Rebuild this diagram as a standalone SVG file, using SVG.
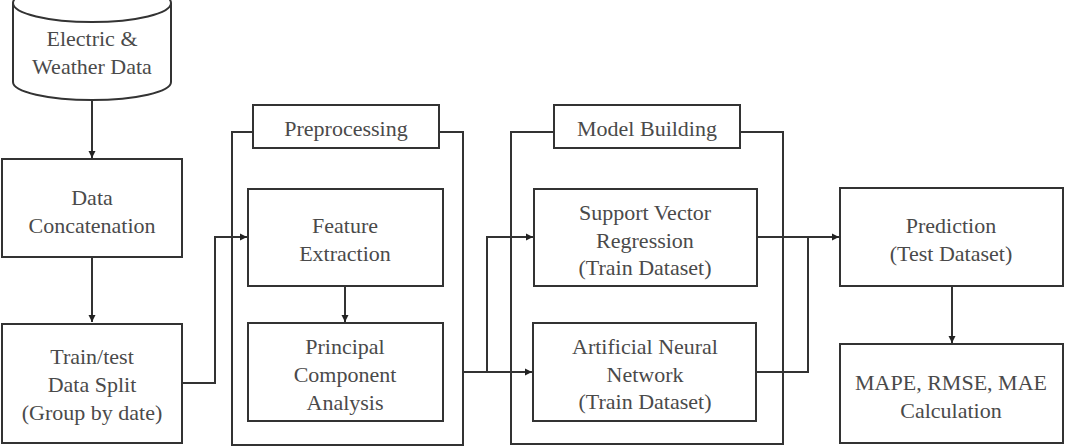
<svg xmlns="http://www.w3.org/2000/svg" width="1069" height="447" viewBox="0 0 1069 447">
<defs>
<marker id="ah" markerWidth="8" markerHeight="8" refX="7" refY="4" orient="auto" markerUnits="userSpaceOnUse">
<path d="M0,0.5 L7,4 L0,7.5 Z" fill="#222"/>
</marker>
</defs>
<rect width="1069" height="447" fill="#fff"/>

<g id="connectors" fill="none" stroke="#333" stroke-width="2">
<path d="M92,100 V158" marker-end="url(#ah)"/>
<path d="M92,257 V322" marker-end="url(#ah)"/>
<path d="M182,383 H215 V237 H247" marker-end="url(#ah)"/>
<path d="M345,286 V322" marker-end="url(#ah)"/>
<path d="M463,372 H487 V237 H533" marker-end="url(#ah)"/>
<path d="M487,372 H532" marker-end="url(#ah)"/>
<path d="M757,237 H839" marker-end="url(#ah)"/>
<path d="M756,372 H808 V237"/>
<path d="M952,286 V343" marker-end="url(#ah)"/>
</g>

<g id="nodes" font-size="22" text-anchor="middle">

<g id="preprocessing">
<path d="M253,132 H232 V445 H463 V132 H439" fill="none" stroke="#333" stroke-width="2"/>
<rect x="253" y="105" width="186" height="43" fill="#fff" stroke="#333" stroke-width="2"/>
<text x="346" y="136" font-family="Liberation Serif" fill="#4a4a4a">Preprocessing</text>
</g>

<g id="model-building">
<path d="M554,132 H511 V444 H783 V132 H740" fill="none" stroke="#333" stroke-width="2"/>
<rect x="554" y="105" width="186" height="43" fill="#fff" stroke="#333" stroke-width="2"/>
<text x="647" y="136" font-family="Liberation Serif" fill="#4a4a4a">Model Building</text>
</g>

<g id="data-source">
<path d="M13,3 V82 A79,18 0 0 0 171,82 V3" fill="#fff" stroke="#333" stroke-width="2"/>
<ellipse cx="92" cy="3" rx="79" ry="19" fill="#fff" stroke="#333" stroke-width="2"/>
<text x="92" y="46" font-family="Liberation Serif" fill="#4a4a4a">Electric &amp;</text>
<text x="92" y="74" font-family="Liberation Serif" fill="#4a4a4a">Weather Data</text>
</g>

<g id="data-concatenation">
<rect x="2" y="159" width="180" height="98" fill="#fff" stroke="#333" stroke-width="2"/>
<text x="92" y="205" font-family="Liberation Serif" fill="#4a4a4a">Data</text>
<text x="92" y="233" font-family="Liberation Serif" fill="#4a4a4a">Concatenation</text>
</g>

<g id="train-test-split">
<rect x="2" y="324" width="180" height="119" fill="#fff" stroke="#333" stroke-width="2"/>
<text x="92" y="364" font-family="Liberation Serif" fill="#4a4a4a">Train/test</text>
<text x="92" y="392" font-family="Liberation Serif" fill="#4a4a4a">Data Split</text>
<text x="92" y="420" font-family="Liberation Serif" fill="#4a4a4a">(Group by date)</text>
</g>

<g id="feature-extraction">
<rect x="248" y="189" width="195" height="97" fill="#fff" stroke="#333" stroke-width="2"/>
<text x="345" y="233" font-family="Liberation Serif" fill="#4a4a4a">Feature</text>
<text x="345" y="261" font-family="Liberation Serif" fill="#4a4a4a">Extraction</text>
</g>

<g id="pca">
<rect x="248" y="323" width="195" height="98" fill="#fff" stroke="#333" stroke-width="2"/>
<text x="345" y="354" font-family="Liberation Serif" fill="#4a4a4a">Principal</text>
<text x="345" y="382" font-family="Liberation Serif" fill="#4a4a4a">Component</text>
<text x="345" y="410" font-family="Liberation Serif" fill="#4a4a4a">Analysis</text>
</g>

<g id="svr">
<rect x="534" y="189" width="223" height="97" fill="#fff" stroke="#333" stroke-width="2"/>
<text x="645" y="220" font-family="Liberation Serif" fill="#4a4a4a">Support Vector</text>
<text x="645" y="248" font-family="Liberation Serif" fill="#4a4a4a">Regression</text>
<text x="645" y="275" font-family="Liberation Serif" fill="#4a4a4a">(Train Dataset)</text>
</g>

<g id="ann">
<rect x="533" y="323" width="223" height="98" fill="#fff" stroke="#333" stroke-width="2"/>
<text x="645" y="354" font-family="Liberation Serif" fill="#4a4a4a">Artificial Neural</text>
<text x="645" y="382" font-family="Liberation Serif" fill="#4a4a4a">Network</text>
<text x="645" y="409" font-family="Liberation Serif" fill="#4a4a4a">(Train Dataset)</text>
</g>

<g id="prediction">
<rect x="840" y="188" width="223" height="98" fill="#fff" stroke="#333" stroke-width="2"/>
<text x="951" y="233" font-family="Liberation Serif" fill="#4a4a4a">Prediction</text>
<text x="951" y="261" font-family="Liberation Serif" fill="#4a4a4a">(Test Dataset)</text>
</g>

<g id="metrics">
<rect x="840" y="344" width="223" height="99" fill="#fff" stroke="#333" stroke-width="2"/>
<text x="951" y="390" font-family="Liberation Serif" fill="#4a4a4a">MAPE, RMSE, MAE</text>
<text x="951" y="418" font-family="Liberation Serif" fill="#4a4a4a">Calculation</text>
</g>

</g>
</svg>
